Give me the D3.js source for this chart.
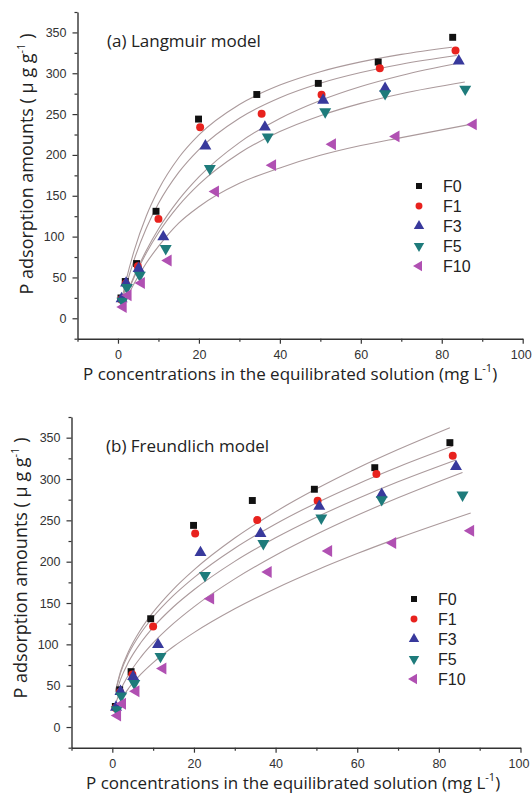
<!DOCTYPE html>
<html><head><meta charset="utf-8">
<script src="https://cdn.jsdelivr.net/npm/d3@7"></script>
<style>body{margin:0;background:#fff} svg{display:block}</style>
</head><body><svg id="c" width="532" height="793"></svg>
<script>
// ---------- data ----------
const seriesNames = ["F0", "F1", "F3", "F5", "F10"];
const xTickLabels = [0, 20, 40, 60, 80, 100];
const yTickLabels = [0, 50, 100, 150, 200, 250, 300, 350];

const concF0 = [0.74, 1.8, 4.6, 9.4, 19.9, 34.3, 49.5, 64.3, 82.7];
const adsF0  = [24.9, 45, 67, 131, 243.9, 274, 287.6, 313.7, 344];
const concF1 = [0.8, 1.9, 4.9, 10.0, 20.3, 35.5, 50.3, 64.7, 83.4];
const adsF1  = [23, 42.5, 63.7, 121.7, 234, 250.4, 273.7, 306, 328];
const concF3 = [0.9, 2.0, 5.1, 11.2, 21.6, 36.3, 50.7, 66, 84.2];
const adsF3  = [24, 43, 61, 99.7, 211, 234, 267, 281.5, 315];
const concF5 = [1.1, 2.2, 5.4, 11.8, 22.7, 37, 51.2, 66, 85.8];
const adsF5  = [21, 37.6, 52.7, 85.4, 183.4, 222, 252.8, 275, 280.6];
const concF10 = [1.3, 2.5, 5.8, 12.4, 24.1, 38.2, 53, 68.7, 87.8];
const adsF10  = [13.8, 28.2, 43.3, 70.7, 155.3, 187.5, 213, 222.7, 237.4];

// fitted curves: x positions and y values
const langXF0 = [0.74, 2, 4, 7, 10, 15, 20, 30, 40, 50, 60, 70, 82.5];
const langYF0 = [18.5, 46.3, 82.9, 125.2, 157.3, 196.5, 224.5, 261.8, 285.5, 301.9, 313.9, 323.1, 331.9];
const langXF1 = [0.8, 2, 4, 7, 10, 15, 20, 30, 40, 50, 60, 70, 83.7];
const langYF1 = [16.8, 39.5, 71.7, 110.2, 140.5, 178.6, 206.6, 245.0, 270.1, 287.8, 300.9, 311.1, 321.7];
const langXF3 = [0.9, 2, 4, 7, 10, 15, 20, 30, 40, 50, 60, 70, 84.5];
const langYF3 = [12.9, 27.6, 51.9, 83.0, 109.3, 144.9, 173.1, 215.1, 244.7, 266.7, 283.8, 297.3, 312.8];
const langXF5 = [1.0, 2, 4, 7, 10, 15, 20, 30, 40, 50, 60, 70, 85.7];
const langYF5 = [14.0, 27.0, 50.3, 80.0, 104.8, 138.0, 164.0, 202.1, 228.6, 248.1, 263.1, 275.0, 289.3];
const langXF10 = [1.3, 2, 4, 7, 10, 15, 20, 30, 40, 50, 60, 70, 87.4];
const langYF10 = [15.3, 23.0, 42.5, 67.6, 88.0, 116.5, 136.6, 165.2, 184.1, 199.5, 211.5, 221.2, 237.7];

const freuXF0 = [0.74, 2, 4, 7, 10, 15, 20, 30, 40, 50, 60, 70, 82.7];
const freuYF0 = [42.6, 66.9, 91.6, 118.1, 138.9, 166.9, 190.1, 228.6, 260.4, 288.1, 313.0, 335.6, 362.0];
const freuXF1 = [0.8, 2, 4, 7, 10, 15, 20, 30, 40, 50, 60, 70, 83.4];
const freuYF1 = [43.6, 65.3, 88.8, 113.7, 133.1, 159.2, 180.8, 216.3, 245.6, 271.1, 293.8, 314.5, 339.8];
const freuXF3 = [0.9, 2, 4, 7, 10, 15, 20, 30, 40, 50, 60, 70, 84.2];
const freuYF3 = [39.6, 57.3, 78.9, 102.2, 120.6, 145.5, 166.1, 200.4, 228.9, 253.8, 276.1, 296.6, 323.0];
const freuXF5 = [1.0, 2, 4, 7, 10, 15, 20, 30, 40, 50, 60, 70, 85.8];
const freuYF5 = [31.0, 44.4, 63.4, 84.6, 101.7, 125.3, 145.4, 179.2, 207.8, 233.1, 256.1, 277.3, 308.0];
const freuXF10 = [1.3, 2, 4, 7, 10, 15, 20, 30, 40, 50, 60, 70, 87.8];
const freuYF10 = [25.2, 31.9, 46.9, 63.9, 77.9, 97.4, 114.2, 143.0, 167.7, 189.7, 209.8, 228.5, 259.0];

// ---------- build tables ----------
const concs = [concF0, concF1, concF3, concF5, concF10];
const adss  = [adsF0, adsF1, adsF3, adsF5, adsF10];
const langX = [langXF0, langXF1, langXF3, langXF5, langXF10];
const langY = [langYF0, langYF1, langYF3, langYF5, langYF10];
const freuX = [freuXF0, freuXF1, freuXF3, freuXF5, freuXF10];
const freuY = [freuYF0, freuYF1, freuYF3, freuYF5, freuYF10];

const colors = ["#111111", "#e8221e", "#38399c", "#1e7b7b", "#b050b2"];
const shapes = ["square", "circle", "up", "down", "left"];

const points = seriesNames.map((s, i) => concs[i].map((c, j) => ({ c, q: adss[i][j] })));
const mkCurve = (X, Y) => X.map((xs, i) => xs.map((v, j) => [v, Y[i][j]]));
const langCurves = mkCurve(langX, langY);
const freuCurves = mkCurve(freuX, freuY);

const svg = d3.select("#c");
const FONT_T = "'Liberation Sans', Arial, sans-serif";
const FONT_L = "'Open Sans', 'Noto Sans', sans-serif";

function symbolPath(shape, size) {
  const type = shape === "square" ? d3.symbolSquare : shape === "circle" ? d3.symbolCircle : d3.symbolTriangle;
  return d3.symbol().type(type).size(size)();
}
function rot(shape) { return shape === "down" ? 180 : shape === "left" ? -90 : 0; }
function symSize(shape, legend) {
  const base = { square: 48, circle: 50, up: 62, down: 62, left: 62 }[shape];
  return legend ? base * 0.75 : base;
}

function panel(o) {
  const g = svg.append("g");
  const x = d3.scaleLinear().domain([-10, 100]).range([o.x0, o.x1]);
  const y = d3.scaleLinear().domain([-25, 375]).range([o.y0, o.y1]);

  // axes
  const xMinor = d3.range(-10, 100, 20);
  const yMinor = d3.range(-25, 400, 50);
  g.append("g").attr("transform", `translate(0,${o.y0})`)
    .call(d3.axisBottom(x).tickValues(xMinor).tickSize(3).tickSizeOuter(0).tickFormat(""))
    .call(a => a.select(".domain").remove());
  g.append("g").attr("transform", `translate(${o.x0},0)`)
    .call(d3.axisLeft(y).tickValues(yMinor).tickSize(3).tickSizeOuter(0).tickFormat(""))
    .call(a => a.select(".domain").remove());
  g.append("g").attr("transform", `translate(0,${o.y0})`)
    .call(d3.axisBottom(x).tickValues(xTickLabels).tickSize(5).tickSizeOuter(0).tickPadding(6));
  g.append("g").attr("transform", `translate(${o.x0},0)`)
    .call(d3.axisLeft(y).tickValues(yTickLabels).tickSize(5).tickSizeOuter(0).tickPadding(6));
  g.selectAll(".tick line").attr("stroke", "#333").attr("stroke-width", 1.2);
  g.selectAll(".domain").attr("stroke", "#333").attr("stroke-width", 1.4);
  g.selectAll(".tick text").attr("font-family", FONT_T).attr("font-size", 12.5).attr("fill", "#333")
    .attr("dx", d => d === 100 ? -2 : 0);

  // curves
  const line = d3.line().x(d => x(d[0])).y(d => y(d[1])).curve(d3.curveMonotoneX);
  g.append("g").selectAll("path").data(o.curves).join("path")
    .attr("d", line).attr("fill", "none").attr("stroke", "#ab9a9c").attr("stroke-width", 1.1);

  // points
  points.forEach((pts, i) => {
    g.append("g").selectAll("path").data(pts).join("path")
      .attr("d", symbolPath(shapes[i], symSize(shapes[i])))
      .attr("transform", d => `translate(${x(d.c)},${y(d.q)}) rotate(${rot(shapes[i])})`)
      .attr("fill", colors[i]);
  });

  // legend
  const lg = g.append("g");
  seriesNames.forEach((s, i) => {
    const yy = o.legY + i * 20;
    lg.append("path").attr("d", symbolPath(shapes[i], symSize(shapes[i], true)))
      .attr("transform", `translate(${o.legX},${yy}) rotate(${rot(shapes[i])})`)
      .attr("fill", colors[i]);
    lg.append("text").attr("x", o.legX + 24).attr("y", yy + 6).text(s)
      .attr("font-family", FONT_T).attr("font-size", 16).attr("fill", "#222");
  });

  // title
  g.append("text").attr("x", o.titleX).attr("y", o.titleY).text(o.title)
    .attr("font-family", FONT_L).attr("font-size", 17).attr("fill", "#222");

  // x axis title
  const xt = g.append("text").attr("x", o.xtX).attr("y", o.xtY)
    .attr("font-family", FONT_L).attr("font-size", 17).attr("fill", "#222");
  xt.append("tspan").text("P concentrations in the equilibrated solution (mg L");
  xt.append("tspan").text("-1").attr("font-size", 11).attr("dy", -8);
  xt.append("tspan").text(")").attr("dy", 8);

  // y axis title
  const yt = g.append("text")
    .attr("transform", `translate(${o.ytX},${o.ytY}) rotate(-90)`)
    .attr("text-anchor", "middle")
    .attr("font-family", FONT_L).attr("font-size", 18).attr("fill", "#222");
  yt.append("tspan").text("P adsorption amounts ( μ g g");
  yt.append("tspan").text("-1").attr("font-size", 11).attr("dy", -8);
  yt.append("tspan").text(" )").attr("dy", 8);
}

panel({ x0: 77.5, x1: 522.7, y0: 338.7, y1: 12, curves: langCurves,
  legX: 419, legY: 186, title: "(a) Langmuir model", titleX: 107, titleY: 47,
  xtX: 83, xtY: 380, ytX: 33, ytY: 164 });
panel({ x0: 71.5, x1: 520.5, y0: 747.7, y1: 417, curves: freuCurves,
  legX: 414, legY: 599, title: "(b) Freundlich model", titleX: 106, titleY: 452,
  xtX: 86, xtY: 789, ytX: 27, ytY: 568 });
</script></body></html>
